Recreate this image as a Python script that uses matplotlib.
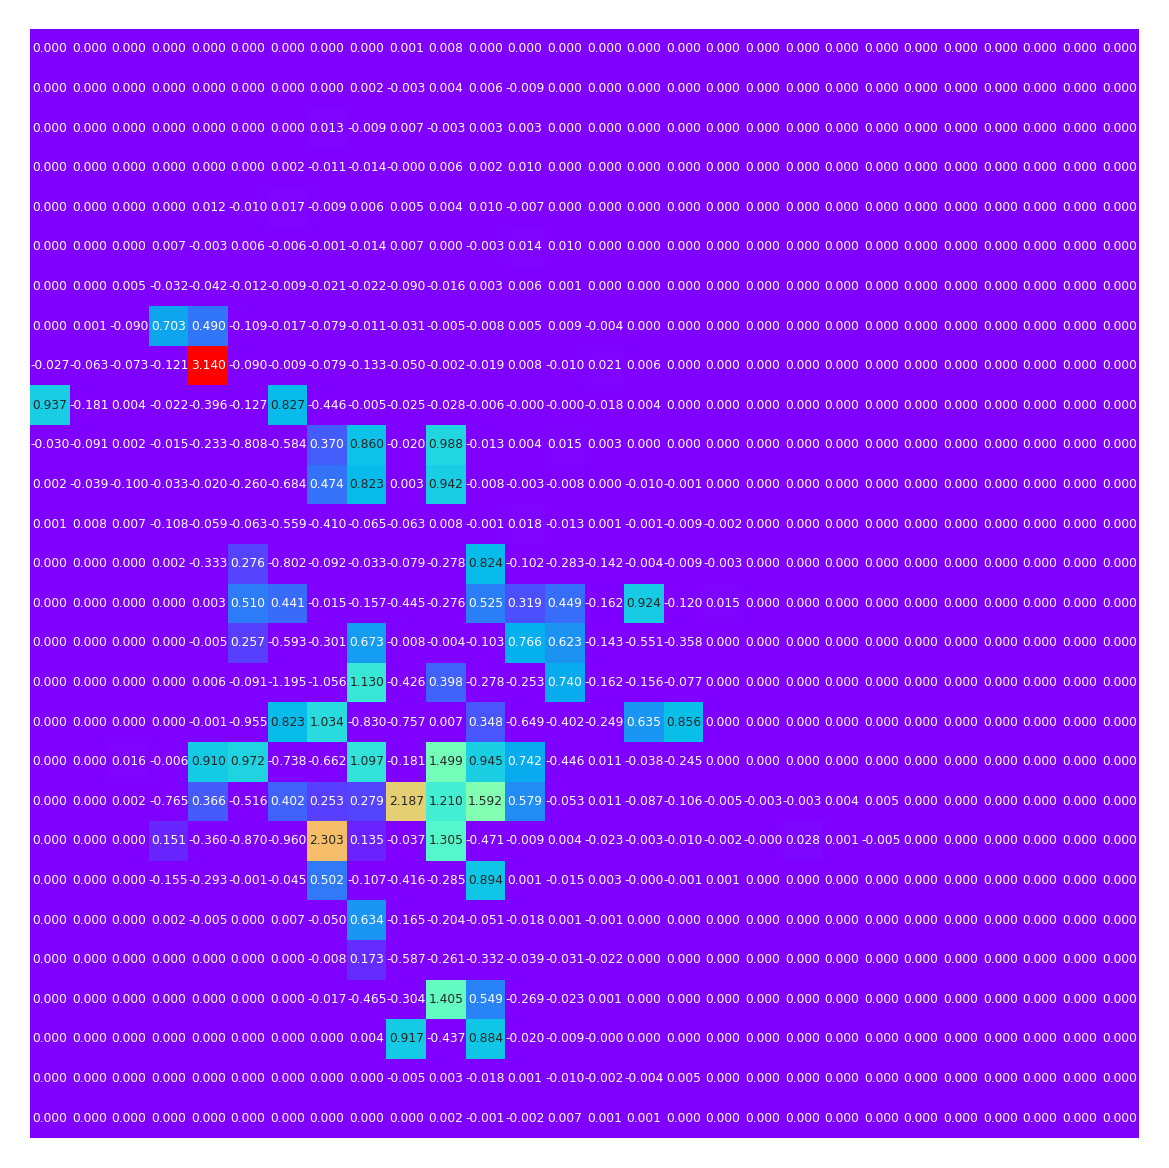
import numpy as np
import matplotlib
matplotlib.use("Agg")
import matplotlib.pyplot as plt
import seaborn as sns

N = 28
Z = -0.0001  # shows as -0.000

# non-zero head of each row; the rest of the row is 0.000
row_heads = [
    [0, 0, 0, 0, 0, 0, 0, 0, 0, 0.001, 0.008],
    [0, 0, 0, 0, 0, 0, 0, 0, 0.002, -0.003, 0.004, 0.006, -0.009],
    [0, 0, 0, 0, 0, 0, 0, 0.013, -0.009, 0.007, -0.003, 0.003, 0.003],
    [0, 0, 0, 0, 0, 0, 0.002, -0.011, -0.014, Z, 0.006, 0.002, 0.010],
    [0, 0, 0, 0, 0.012, -0.010, 0.017, -0.009, 0.006, 0.005, 0.004, 0.010, -0.007],
    [0, 0, 0, 0.007, -0.003, 0.006, -0.006, -0.001, -0.014, 0.007, 0.000, -0.003, 0.014, 0.010],
    [0, 0, 0.005, -0.032, -0.042, -0.012, -0.009, -0.021, -0.022, -0.090, -0.016, 0.003, 0.006, 0.001],
    [0, 0.001, -0.090, 0.703, 0.490, -0.109, -0.017, -0.079, -0.011, -0.031, -0.005, -0.008, 0.005, 0.009, -0.004],
    [-0.027, -0.063, -0.073, -0.121, 3.140, -0.090, -0.009, -0.079, -0.133, -0.050, -0.002, -0.019, 0.008, -0.010, 0.021, 0.006],
    [0.937, -0.181, 0.004, -0.022, -0.396, -0.127, 0.827, -0.446, -0.005, -0.025, -0.028, -0.006, Z, Z, -0.018, 0.004],
    [-0.030, -0.091, 0.002, -0.015, -0.233, -0.808, -0.584, 0.370, 0.860, -0.020, 0.988, -0.013, 0.004, 0.015, 0.003],
    [0.002, -0.039, -0.100, -0.033, -0.020, -0.260, -0.684, 0.474, 0.823, 0.003, 0.942, -0.008, -0.003, -0.008, 0.000, -0.010, -0.001],
    [0.001, 0.008, 0.007, -0.108, -0.059, -0.063, -0.559, -0.410, -0.065, -0.063, 0.008, -0.001, 0.018, -0.013, 0.001, -0.001, -0.009, -0.002],
    [0, 0, 0, 0.002, -0.333, 0.276, -0.802, -0.092, -0.033, -0.079, -0.278, 0.824, -0.102, -0.283, -0.142, -0.004, -0.009, -0.003],
    [0, 0, 0, 0, 0.003, 0.510, 0.441, -0.015, -0.157, -0.445, -0.276, 0.525, 0.319, 0.449, -0.162, 0.924, -0.120, 0.015],
    [0, 0, 0, 0, -0.005, 0.257, -0.593, -0.301, 0.673, -0.008, -0.004, -0.103, 0.766, 0.623, -0.143, -0.551, -0.358],
    [0, 0, 0, 0, 0.006, -0.091, -1.195, -1.056, 1.130, -0.426, 0.398, -0.278, -0.253, 0.740, -0.162, -0.156, -0.077],
    [0, 0, 0, 0, -0.001, -0.955, 0.823, 1.034, -0.830, -0.757, 0.007, 0.348, -0.649, -0.402, -0.249, 0.635, 0.856],
    [0, 0, 0.016, -0.006, 0.910, 0.972, -0.738, -0.662, 1.097, -0.181, 1.499, 0.945, 0.742, -0.446, 0.011, -0.038, -0.245],
    [0, 0, 0.002, -0.765, 0.366, -0.516, 0.402, 0.253, 0.279, 2.187, 1.210, 1.592, 0.579, -0.053, 0.011, -0.087, -0.106, -0.005, -0.003, -0.003, 0.004, 0.005],
    [0, 0, 0, 0.151, -0.360, -0.870, -0.960, 2.303, 0.135, -0.037, 1.305, -0.471, -0.009, 0.004, -0.023, -0.003, -0.010, -0.002, Z, 0.028, 0.001, -0.005],
    [0, 0, 0, -0.155, -0.293, -0.001, -0.045, 0.502, -0.107, -0.416, -0.285, 0.894, 0.001, -0.015, 0.003, Z, -0.001, 0.001],
    [0, 0, 0, 0.002, -0.005, 0.000, 0.007, -0.050, 0.634, -0.165, -0.204, -0.051, -0.018, 0.001, -0.001],
    [0, 0, 0, 0, 0, 0, 0, -0.008, 0.173, -0.587, -0.261, -0.332, -0.039, -0.031, -0.022],
    [0, 0, 0, 0, 0, 0, 0, -0.017, -0.465, -0.304, 1.405, 0.549, -0.269, -0.023, 0.001],
    [0, 0, 0, 0, 0, 0, 0, 0, 0.004, 0.917, -0.437, 0.884, -0.020, -0.009, Z],
    [0, 0, 0, 0, 0, 0, 0, 0, 0, -0.005, 0.003, -0.018, 0.001, -0.010, -0.002, -0.004, 0.005],
    [0, 0, 0, 0, 0, 0, 0, 0, 0, 0, 0.002, -0.001, -0.002, 0.007, 0.001, 0.001],
]

grid = np.zeros((N, N))
for i, head in enumerate(row_heads):
    grid[i, :len(head)] = head

fig = plt.figure(figsize=(11.69, 11.68), dpi=100)
ax = fig.add_axes([30 / 1169, 1 - 1138 / 1168, 1109 / 1169, 1109 / 1168])
sns.heatmap(grid, ax=ax, cmap="rainbow", vmin=0, vmax=3.14, annot=True, fmt=".3f",
            annot_kws={"fontsize": 8.8}, cbar=False, xticklabels=False, yticklabels=False)
ax.set_xticks([])
ax.set_yticks([])
fig.savefig("out.png", dpi=100)
